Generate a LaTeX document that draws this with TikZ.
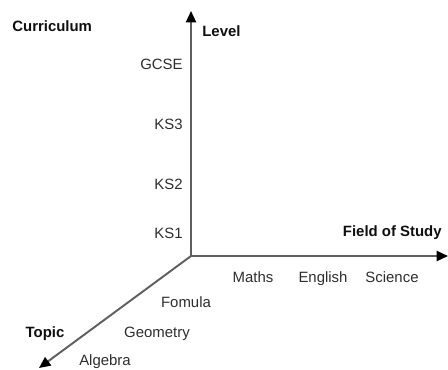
\documentclass[tikz,border=0pt]{standalone}
\usepackage{fontspec}
\setmainfont{Liberation Sans}
\usetikzlibrary{positioning, arrows.meta}
\definecolor{AxisGray}{RGB}{95, 95, 95}
\definecolor{TextGray}{RGB}{45, 45, 45}
\definecolor{TitleDark}{RGB}{15, 15, 15}

\begin{document}
\begin{tikzpicture}[
        x=0.02cm, y=-0.02cm,
        axis/.style={-{Triangle[length=6.5pt, width=5.8pt, color=black]}, line width=1.1pt, AxisGray},
        tick/.style={inner sep=0pt, anchor=mid, font=\fontsize{8.5}{10}\selectfont, text=TextGray},
        title/.style={inner sep=0pt, anchor=mid, font=\fontsize{8.5}{10}\selectfont\bfseries, text=TitleDark}
      ]
        \useasboundingbox (0,0) rectangle (448,369);

        % Axes
        \coordinate (origin) at (191,256);
        \coordinate (levelend) at (191,11);
        \coordinate (fieldend) at (448,256);
        \coordinate (topicend) at (39,368);
        \draw [axis] (origin) -- (levelend);
        \draw [axis] (origin) -- (fieldend);
        \draw [axis] (origin) -- (topicend);

        % Titles
        \node [title, anchor=west] (curriculum) at (12,26) {Curriculum};
        \node [title, anchor=west] (level) at (202,31) {Level};
        \node [title, anchor=east] (field) at (442,233) {Field of Study};
        \node [title] (topic) at (45,333) {Topic};

        % Levels
        \node [tick, anchor=east] (gcse) at (183,64) {GCSE};
        \node [tick, anchor=east] (ksthree) at (183,124) {KS3};
        \node [tick, anchor=east] (kstwo) at (183,184) {KS2};
        \node [tick, anchor=east] (ksone) at (183,233) {KS1};

        % Fields
        \node [tick] (maths) at (253,278) {Maths};
        \node [tick] (english) at (323,278) {English};
        \node [tick] (science) at (392,278) {Science};

        % Topics
        \node [tick] (fomula) at (186,303) {Fomula};
        \node [tick] (geometry) at (157,333) {Geometry};
        \node [tick] (algebra) at (105,361) {Algebra};
      \end{tikzpicture}
\end{document}
